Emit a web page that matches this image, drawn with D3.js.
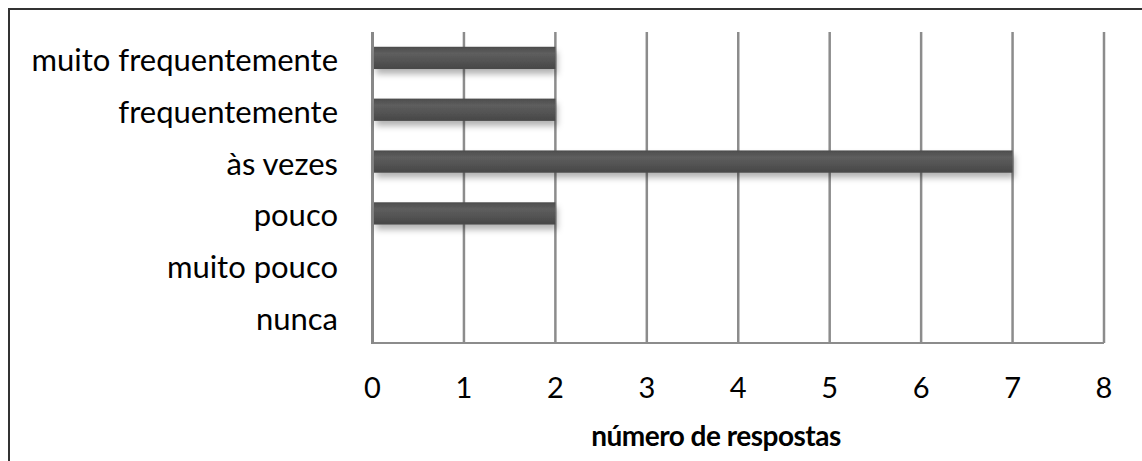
<!DOCTYPE html>
<html>
<head>
<meta charset="utf-8">
<script src="https://cdn.jsdelivr.net/npm/d3@7"></script>
<style>
  html, body { margin: 0; padding: 0; background: #fff; }
  svg { display: block; }
  text { font-family: Lato, "Open Sans", sans-serif; fill: #000; }
</style>
</head>
<body>
<svg id="chart" width="1142" height="461"></svg>
<script>
// Answer categories, top to bottom
const categories = ["muito frequentemente", "frequentemente", "às vezes", "pouco", "muito pouco", "nunca"];
// Number of responses per category
const responses = [2, 2, 7, 2, 0, 0];
// X axis ticks
const xTicks = [0, 1, 2, 3, 4, 5, 6, 7, 8];
const xTitle = "número de respostas";

const svg = d3.select("#chart");
const W = 1142, H = 461;
const plot = { left: 372.5, right: 1104, top: 32, bottom: 343 };

const x = d3.scaleLinear().domain([0, 8]).range([plot.left, plot.right]);
const y = d3.scaleBand().domain(categories).range([plot.top, plot.bottom]).paddingInner(0.57).paddingOuter(0.285);

const defs = svg.append("defs");
const grad = defs.append("linearGradient").attr("id", "barFill").attr("x1", 0).attr("y1", 0).attr("x2", 0).attr("y2", 1);
grad.append("stop").attr("offset", "0%").attr("stop-color", "#4c4c4c");
grad.append("stop").attr("offset", "30%").attr("stop-color", "#5e5e5e");
grad.append("stop").attr("offset", "100%").attr("stop-color", "#474747");
const shadow = defs.append("filter").attr("id", "barShadow").attr("x", "-10%").attr("y", "-50%").attr("width", "130%").attr("height", "250%");
shadow.append("feDropShadow").attr("dx", 2).attr("dy", 5).attr("stdDeviation", 3)
  .attr("flood-color", "#000").attr("flood-opacity", 0.3);

// Frame lines (top and left)
svg.append("line").attr("x1", 8).attr("x2", W).attr("y1", 9).attr("y2", 9)
  .attr("stroke", "#333").attr("stroke-width", 2);
svg.append("line").attr("x1", 9).attr("x2", 9).attr("y1", 8).attr("y2", H)
  .attr("stroke", "#333").attr("stroke-width", 2);

// Vertical gridlines
svg.append("g").selectAll("line").data(xTicks.slice(1)).join("line")
  .attr("x1", d => x(d)).attr("x2", d => x(d))
  .attr("y1", plot.top).attr("y2", plot.bottom)
  .attr("stroke", "#8c8c8c").attr("stroke-width", 2.5);

// Axis lines
svg.append("line").attr("x1", plot.left).attr("x2", plot.right).attr("y1", plot.bottom).attr("y2", plot.bottom)
  .attr("stroke", "#8c8c8c").attr("stroke-width", 2);
svg.append("line").attr("x1", plot.left).attr("x2", plot.left).attr("y1", plot.top).attr("y2", plot.bottom + 1)
  .attr("stroke", "#888").attr("stroke-width", 3);

// Bars
svg.append("g").selectAll("rect").data(categories).join("rect")
  .attr("x", x(0) + 1.5)
  .attr("y", d => y(d))
  .attr("width", (d, i) => Math.max(0, x(responses[i]) - x(0) - 1.5))
  .attr("height", y.bandwidth())
  .attr("fill", "url(#barFill)")
  .attr("filter", "url(#barShadow)");

// Category labels
svg.append("g").selectAll("text").data(categories).join("text")
  .attr("x", 338)
  .attr("y", d => y(d) + y.bandwidth() / 2 + 13)
  .attr("text-anchor", "end")
  .attr("font-size", 31)
  .text(d => d);

// X tick labels
svg.append("g").selectAll("text").data(xTicks).join("text")
  .attr("x", d => x(d))
  .attr("y", 398)
  .attr("text-anchor", "middle")
  .attr("font-size", 29)
  .text(d => d);

// X axis title
svg.append("text")
  .attr("x", 716)
  .attr("y", 446)
  .attr("text-anchor", "middle")
  .attr("font-size", 28)
  .attr("font-weight", "bold")
  .attr("letter-spacing", "-0.5px")
  .text(xTitle);
</script>
</body>
</html>
